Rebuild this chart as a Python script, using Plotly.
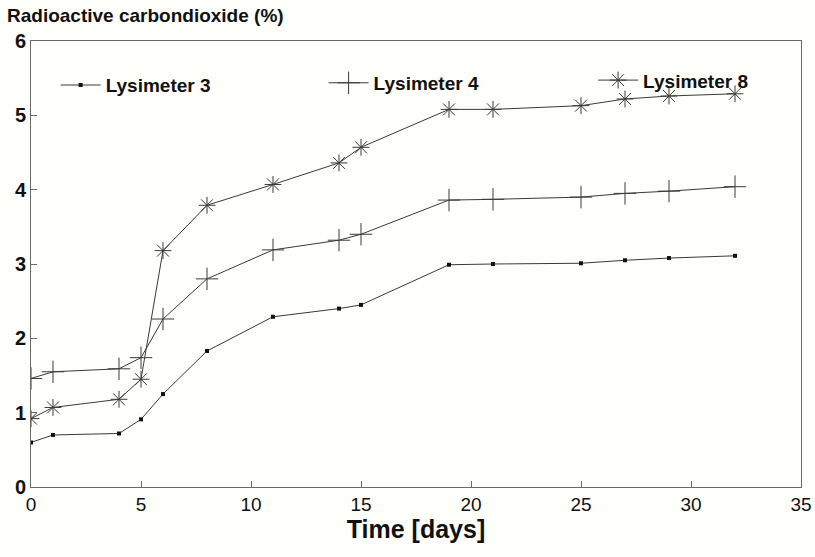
import plotly.graph_objects as go

# Sampling days and measured radioactive CO2 share (%)
days = [0, 1, 4, 5, 6, 8, 11, 14, 15, 19, 21, 25, 27, 29, 32]
lysimeter_3 = [0.60, 0.70, 0.72, 0.91, 1.25, 1.83, 2.29, 2.40, 2.45, 2.99, 3.00, 3.01, 3.05, 3.08, 3.11]
lysimeter_4 = [1.46, 1.55, 1.59, 1.74, 2.26, 2.80, 3.19, 3.32, 3.40, 3.86, 3.87, 3.90, 3.95, 3.98, 4.04]
lysimeter_8 = [0.92, 1.07, 1.18, 1.45, 3.18, 3.79, 4.07, 4.36, 4.57, 5.08, 5.08, 5.13, 5.22, 5.26, 5.29]

x_ticks = [0, 5, 10, 15, 20, 25, 30, 35]
y_ticks = [0, 1, 2, 3, 4, 5, 6]

line_col = "#3a3a36"
frame_col = "#6a6a66"
bold_font = "Liberation Sans"

fig = go.Figure()
fig.add_trace(go.Scatter(
    x=days, y=lysimeter_3, name="Lysimeter 3", mode="lines+markers", legend="legend",
    line=dict(color=line_col, width=1),
    marker=dict(symbol="square", size=4, color="#111111"),
))
fig.add_trace(go.Scatter(
    x=days, y=lysimeter_4, name="Lysimeter 4", mode="lines+markers", legend="legend2",
    line=dict(color=line_col, width=1),
    marker=dict(symbol="cross-thin-open", size=16, line=dict(color="#222222", width=1)),
))
fig.add_trace(go.Scatter(
    x=days, y=lysimeter_8, name="Lysimeter 8", mode="lines+markers", legend="legend3",
    line=dict(color=line_col, width=1),
    marker=dict(symbol="asterisk-open", size=14, line=dict(color="#222222", width=1)),
))


def legend_box(x, y):
    return dict(
        orientation="h", x=x, y=y, xanchor="left", yanchor="middle",
        font=dict(family=bold_font, size=19, color="#111111", weight="bold"),
        bgcolor="rgba(0,0,0,0)", itemwidth=40,
    )


fig.update_layout(
    width=815, height=557,
    margin=dict(l=31, r=14, t=41, b=70, autoexpand=False),
    paper_bgcolor="#fefefb", plot_bgcolor="#fefefb",
    font=dict(family=bold_font, color="#111111"),
    showlegend=True,
    legend=legend_box(0.032, 0.901),
    legend2=legend_box(0.380, 0.906),
    legend3=legend_box(0.730, 0.912),
    xaxis=dict(
        range=[0, 35], tickvals=x_ticks, ticktext=[str(v) for v in x_ticks],
        ticks="inside", ticklen=6, tickcolor=frame_col, tickwidth=1,
        showline=True, linecolor=frame_col, linewidth=1, mirror=True,
        showgrid=False, zeroline=False,
        tickfont=dict(family=bold_font, size=19, color="#111111"),
        title=dict(text="<b>Time [days]</b>", standoff=6,
                   font=dict(family=bold_font, size=25, color="#111111")),
    ),
    yaxis=dict(
        range=[0, 6], tickvals=y_ticks, ticktext=[f"<b>{v}</b>" for v in y_ticks],
        ticks="inside", ticklen=6, tickcolor=frame_col, tickwidth=1,
        showline=True, linecolor=frame_col, linewidth=1, mirror=True,
        showgrid=False, zeroline=False,
        tickfont=dict(family=bold_font, size=20, color="#111111"),
    ),
    annotations=[dict(
        text="<b>Radioactive carbondioxide (%)</b>", xref="paper", yref="paper",
        x=-0.034, y=1.0, xanchor="left", yanchor="bottom", yshift=13, showarrow=False,
        font=dict(family=bold_font, size=19, color="#111111"),
    )],
)

fig.write_html("out.html")
